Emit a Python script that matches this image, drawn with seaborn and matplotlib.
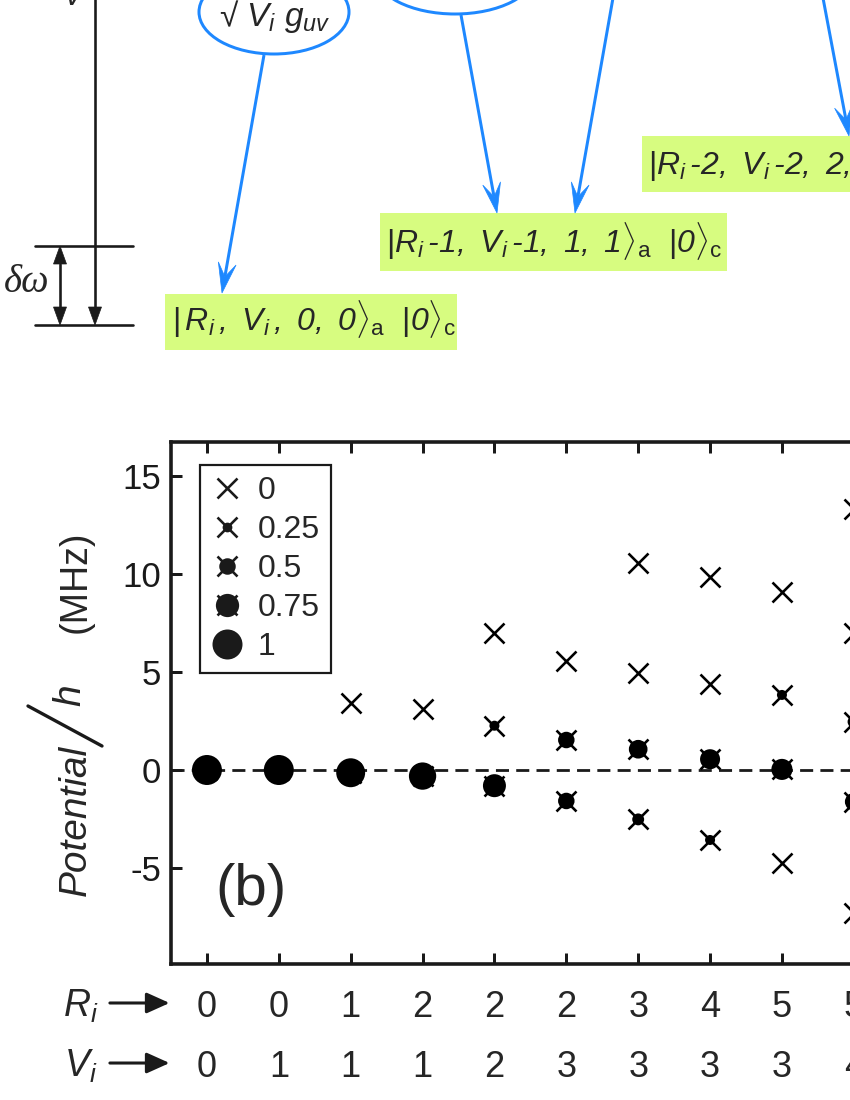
import numpy as np
import pandas as pd
import matplotlib
matplotlib.use("Agg")
import matplotlib.pyplot as plt
import seaborn as sns
from matplotlib.patches import Ellipse, Rectangle, Polygon
from matplotlib.lines import Line2D
from matplotlib.legend_handler import HandlerTuple

# ---------------- data ----------------
R_labels = [0, 0, 1, 2, 2, 2, 3, 4, 5, 5]
V_labels = [0, 1, 1, 1, 2, 3, 3, 3, 3, 4]

point_col = [0, 1, 2, 2, 3, 3, 4, 4, 4, 5, 5, 5,
             6, 6, 6, 6, 7, 7, 7, 7, 8, 8, 8, 8,
             9, 9, 9, 9, 9]
point_val = [0.0, 0.0, 3.43, -0.14, 3.10, -0.31, 6.97, 2.26, -0.80, 5.58, 1.53, -1.58,
             10.58, 4.93, 1.06, -2.52, 9.83, 4.37, 0.55, -3.57, 9.10, 3.83, 0.03, -4.73,
             13.3, 6.97, 2.46, -1.62, -7.28]
point_weight = [1.0, 1.0, 0.0, 0.96, 0.0, 0.90, 0.0, 0.26, 0.74, 0.0, 0.50, 0.50,
                0.0, 0.0, 0.58, 0.33, 0.0, 0.0, 0.63, 0.26, 0.0, 0.26, 0.67, 0.0,
                0.0, 0.0, 0.35, 0.55, 0.0]

legend_weights = [0, 0.25, 0.5, 0.75, 1]
legend_labels = ["0", "0.25", "0.5", "0.75", "1"]
y_ticks = [-5, 0, 5, 10, 15]

# ---------------- style ----------------
sns.set_theme(style="ticks")
plt.rcParams["font.family"] = ["Liberation Sans", "DejaVu Sans"]
plt.rcParams["mathtext.fontset"] = "custom"
plt.rcParams["mathtext.rm"] = "Liberation Sans"
plt.rcParams["mathtext.it"] = "Liberation Sans:italic"
plt.rcParams["mathtext.sf"] = "Liberation Sans:italic"
plt.rcParams["mathtext.bf"] = "Liberation Sans:bold"
plt.rcParams["axes.unicode_minus"] = False

PX = 72.0 / 100.0          # points per pixel
BLUE = "#1e88ff"
GREEN = "#d7fc80"
HY = "\u2010"

fig = plt.figure(figsize=(8.5, 11), dpi=100)

# overlay in pixel coordinates for the schematic (panel a) and label pieces
ov = fig.add_axes([0, 0, 1, 1])
ov.set_xlim(0, 850)
ov.set_ylim(1100, 0)
ov.axis("off")


def head(tip, tail, L, W, notch, color):
    tip = np.asarray(tip, float)
    tail = np.asarray(tail, float)
    u = (tip - tail) / np.linalg.norm(tip - tail)
    n = np.array([-u[1], u[0]])
    base = tip - L * u
    pts = [tip, base + W / 2 * n, tip - notch * L * u, base - W / 2 * n]
    ov.add_patch(Polygon(pts, closed=True, fc=color, ec=color, lw=0.5, zorder=5))
    return tip - notch * L * u


def blue_arrow(start, tip):
    end = head(tip, start, 30, 18, 0.55, BLUE)
    ov.plot([start[0], end[0]], [start[1], end[1]], color=BLUE, lw=3 * PX,
            solid_capstyle="butt", zorder=4)


# energy level scheme
ov.plot([35, 133], [246, 246], color="k", lw=2.6 * PX)
ov.plot([35, 133], [325, 325], color="k", lw=2.6 * PX)
e = head((95, 325), (95, 0), 18, 13, 1.0, "k")
ov.plot([95, 95], [-5, e[1]], color="k", lw=2.6 * PX)
e1 = head((60, 325), (60, 246), 18, 13, 1.0, "k")
e2 = head((60, 246), (60, 325), 18, 13, 1.0, "k")
ov.plot([60, 60], [e2[1], e1[1]], color="k", lw=2.6 * PX)
ov.text(27, 283, "δω", family=["Liberation Serif", "DejaVu Serif"], style="italic",
        fontsize=28, ha="center", va="center")
ov.text(73, 5, "V", style="italic", fontsize=22, ha="center", va="baseline")

# coupling ellipses
ov.add_patch(Ellipse((274, 12), 150, 84, fill=False, ec=BLUE, lw=3 * PX))
ov.add_patch(Ellipse((455, -27), 160, 82, fill=False, ec=BLUE, lw=3 * PX))
ov.text(275, 26, "√ $V_i\\ g_{uv}$", fontsize=24, ha="center", va="baseline")

# state boxes
ov.add_patch(Rectangle((165, 294), 292, 56, fc=GREEN, ec="none", zorder=1))
ov.add_patch(Rectangle((380, 213), 347, 58, fc=GREEN, ec="none", zorder=1))
ov.add_patch(Rectangle((642, 136), 230, 56, fc=GREEN, ec="none", zorder=1))
box1 = r"$|\,\mathsf{R_i\,,\ V_i\,,\ 0,\ 0}\rangle_\mathrm{a}\ \ |\mathsf{0}\rangle_\mathrm{c}$"
box2 = ("$|\\mathsf{R_i\\," + HY + "1,\\ V_i\\," + HY + "1,\\ 1,\\ 1}"
        "\\rangle_\\mathrm{a}\\ \\ |\\mathsf{0}\\rangle_\\mathrm{c}$")
box3 = ("$|\\mathsf{R_i\\," + HY + "2,\\ V_i\\," + HY + "2,\\ 2,\\ 2}"
        "\\rangle_\\mathrm{a}\\ \\ |\\mathsf{0}\\rangle_\\mathrm{c}$")
ov.text(172, 331, box1, fontsize=23, ha="left", va="baseline", zorder=2)
ov.text(386, 253, box2, fontsize=23, ha="left", va="baseline", zorder=2)
ov.text(648, 175, box3, fontsize=23, ha="left", va="baseline", zorder=2)

blue_arrow((264, 55), (222, 293))
blue_arrow((461, 15), (497, 213))
blue_arrow((613, -2), (575, 213))
blue_arrow((823, -2), (849, 136))

# y label pieces
ov.text(86, 820, "Potential", style="italic", fontsize=28, rotation=90,
        rotation_mode="anchor", ha="center", va="baseline")
ov.plot([28, 102], [706, 746], color="k", lw=2.4)
ov.text(80, 695, "h", style="italic", fontsize=28, rotation=90,
        rotation_mode="anchor", ha="center", va="baseline")
ov.text(86, 582, "(MHz)", fontsize=27, rotation=90,
        rotation_mode="anchor", ha="center", va="baseline")

# ---------------- panel b ----------------
ax = fig.add_axes([171 / 850, 1 - 964 / 1100, (1000 - 171) / 850, (964 - 442) / 1100])
ax.set_facecolor("white")

df = pd.DataFrame({"col": point_col, "val": point_val, "w": point_weight})
df["area"] = ((3 + 27 * df["w"]) * PX) ** 2

ax.axhline(0, color="k", lw=2.0, ls=(0, (4.7, 2.6)), zorder=1)

sns.scatterplot(data=df, x="col", y="val", marker="x", s=(20 * PX) ** 2,
                color="black", linewidth=2.6 * PX, legend=False, ax=ax, zorder=3)
dfc = df[df["w"] > 0]
amin, amax = dfc["area"].min(), dfc["area"].max()
sns.scatterplot(data=dfc, x="col", y="val", size="area", sizes=(amin, amax),
                size_norm=(amin, amax), marker="o", color="black", linewidth=0,
                legend=False, ax=ax, zorder=4)

ax.set_xlim(-0.5, -0.5 + (1000 - 171) / 71.875)
ax.set_ylim((770 - 964) / 19.6, (770 - 442) / 19.6)
ax.set_xticks(range(len(R_labels)))
ax.set_yticks(y_ticks)
ax.set_xlabel("")
ax.set_ylabel("")
for s in ax.spines.values():
    s.set_linewidth(3.6 * PX)
    s.set_color("k")
ax.tick_params(axis="both", direction="in", length=11 * PX, width=3 * PX,
               top=True, right=True, labelsize=25, pad=7, colors="k")
ax.tick_params(axis="x", labelbottom=False)

# R_i / V_i rows under the axis
trans = ax.get_xaxis_transform()
for i, (r, v) in enumerate(zip(R_labels, V_labels)):
    ax.text(i, -0.1015, str(r), transform=trans, ha="center", va="baseline", fontsize=26)
    ax.text(i, -0.2165, str(v), transform=trans, ha="center", va="baseline", fontsize=26)
ax.text(-1.75, -0.1015, "$R_i$", transform=trans, ha="center", va="baseline", fontsize=27)
ax.text(-1.75, -0.2165, "$V_i$", transform=trans, ha="center", va="baseline", fontsize=27)
for yy in (-0.0747, -0.1897):
    ax.annotate("", xy=(-0.52, yy), xytext=(-1.35, yy), xycoords=trans, textcoords=trans,
                annotation_clip=False,
                arrowprops=dict(arrowstyle="-|>,head_length=1.0,head_width=0.45",
                                mutation_scale=14, lw=2.2, color="k",
                                shrinkA=0, shrinkB=0))

ax.text(0.053, 0.142, "(b)", transform=ax.transAxes, fontsize=42, ha="left", va="center")

# legend
handles = []
for w in legend_weights:
    hx = Line2D([], [], marker="x", ms=20 * PX, mew=2.6 * PX, color="k", ls="none")
    if w > 0:
        ho = Line2D([], [], marker="o", ms=(3 + 27 * w) * PX, mew=0, color="k", ls="none")
        handles.append((hx, ho))
    else:
        handles.append((hx,))
leg = ax.legend(handles, legend_labels, handler_map={tuple: HandlerTuple(ndivide=1, pad=0)},
                loc="upper left", bbox_to_anchor=(0.035, 0.956), borderaxespad=0,
                fontsize=23, frameon=True, fancybox=False, edgecolor="k", framealpha=1,
                handlelength=1.0, handletextpad=0.45, labelspacing=0.28, borderpad=0.35)
leg.get_frame().set_linewidth(2.2 * PX)

fig.savefig("out.png", dpi=100)
